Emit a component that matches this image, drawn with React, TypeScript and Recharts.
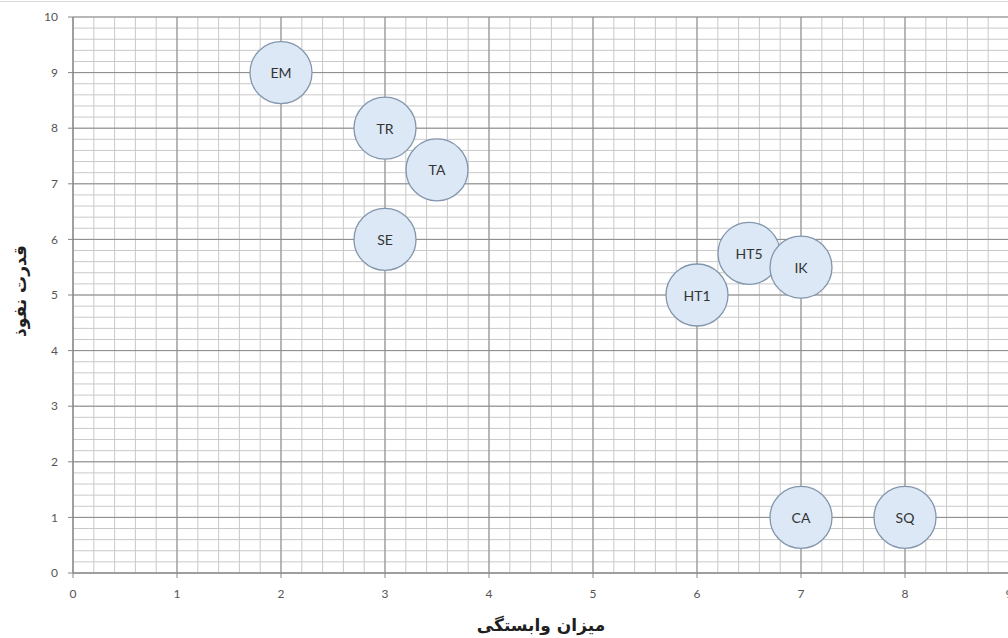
import { ScatterChart, Scatter, XAxis, YAxis, CartesianGrid, Label } from 'recharts';

// MICMAC-style chart: dependence (x) vs influence (y)
const labels = ['EM', 'TR', 'TA', 'SE', 'HT5', 'HT1', 'IK', 'CA', 'SQ'];
const dependence = [2, 3, 3.5, 3, 6.5, 6, 7, 7, 8];
const influence = [9, 8, 7.25, 6, 5.75, 5, 5.5, 1, 1];

const xTicks = [0, 1, 2, 3, 4, 5, 6, 7, 8, 9];
const yTicks = [0, 1, 2, 3, 4, 5, 6, 7, 8, 9, 10];
const X_MAX = 9;
const Y_MAX = 10;

const X_TITLE = 'میزان وابستگی';
const Y_TITLE = 'قدرت نفوذ';

// minor grid every 0.2 unit
const minorSteps = (max: number) => {
  const out: number[] = [];
  for (let i = 0; i <= max * 5; i++) out.push(i / 5);
  return out;
};
const xMinor = minorSteps(X_MAX);
const yMinor = minorSteps(Y_MAX);

const points = labels.map((name, i) => ({ name, x: dependence[i], y: influence[i] }));

const tickStyle = { fontFamily: 'Lato, sans-serif', fontSize: 12, fill: '#555555' };

const mapY = (args: any) => {
  const { yAxis, offset } = args;
  if (yAxis && typeof yAxis.scale === 'function') return yMinor.map((v) => yAxis.scale(v));
  return yMinor.map((v) => offset.top + offset.height * (1 - v / Y_MAX));
};
const mapX = (args: any) => {
  const { xAxis, offset } = args;
  if (xAxis && typeof xAxis.scale === 'function') return xMinor.map((v) => xAxis.scale(v));
  return xMinor.map((v) => offset.left + (offset.width * v) / X_MAX);
};

function Bubble(props: any) {
  const { cx, cy, payload } = props;
  if (cx == null || cy == null) return null;
  return (
    <g>
      <circle cx={cx} cy={cy} r={31} fill="#dce8f5" stroke="#8396ad" strokeWidth={1.3} />
      <text
        x={cx}
        y={cy}
        textAnchor="middle"
        dominantBaseline="central"
        fontFamily="Lato, sans-serif"
        fontSize={14}
        fill="#333333"
      >
        {payload.name}
      </text>
    </g>
  );
}

function YTitle(props: any) {
  const { viewBox } = props;
  const cx = 20;
  const cy = viewBox.y + viewBox.height / 2 - 4;
  return (
    <text
      x={cx}
      y={cy}
      transform={`rotate(-90 ${cx} ${cy})`}
      textAnchor="middle"
      dominantBaseline="central"
      fontFamily="'DejaVu Sans', sans-serif"
      fontWeight="bold"
      fontSize={17}
      fill="#1f1f1f"
    >
      {Y_TITLE}
    </text>
  );
}

function XTitle(props: any) {
  const { viewBox } = props;
  const cx = viewBox.x + viewBox.width / 2;
  return (
    <text
      x={cx}
      y={625}
      textAnchor="middle"
      dominantBaseline="central"
      fontFamily="'DejaVu Sans', sans-serif"
      fontWeight="bold"
      fontSize={17}
      fill="#1f1f1f"
    >
      {X_TITLE}
    </text>
  );
}

export default function App() {
  return (
    <div
      style={{
        position: 'fixed',
        left: 0,
        top: 0,
        width: 1008,
        height: 638,
        overflow: 'hidden',
        background: '#fff',
      }}
    >
      <div style={{ position: 'absolute', left: 0, top: 1, width: 1008, borderTop: '1px solid #d9d9d9' }} />
      <ScatterChart width={1040} height={638} margin={{ top: 17, right: 31, left: 0, bottom: 0 }}>
        <CartesianGrid
          stroke="#c9c9c9"
          horizontalCoordinatesGenerator={mapY}
          verticalCoordinatesGenerator={mapX}
        />
        <CartesianGrid stroke="#8a8a8a" />
        <XAxis
          type="number"
          dataKey="x"
          domain={[0, X_MAX]}
          ticks={xTicks}
          interval={0}
          height={65}
          tick={tickStyle}
          tickSize={5}
          tickMargin={11}
          stroke="#868686"
          tickLine={{ stroke: '#868686' }}
        >
          <Label content={<XTitle />} />
        </XAxis>
        <YAxis
          type="number"
          dataKey="y"
          domain={[0, Y_MAX]}
          ticks={yTicks}
          interval={0}
          width={73}
          tick={tickStyle}
          tickSize={5}
          tickMargin={10}
          stroke="#868686"
          tickLine={{ stroke: '#868686' }}
        >
          <Label content={<YTitle />} />
        </YAxis>
        <Scatter data={points} shape={<Bubble />} isAnimationActive={false} />
      </ScatterChart>
    </div>
  );
}
